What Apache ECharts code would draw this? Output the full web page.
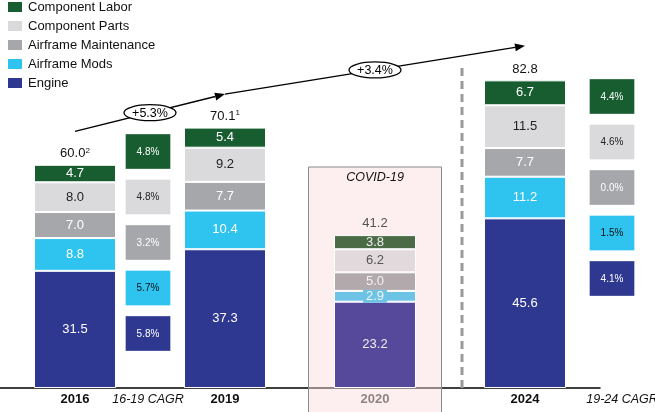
<!DOCTYPE html>
<html><head><meta charset="utf-8">
<script src="https://cdn.jsdelivr.net/npm/echarts@6/dist/echarts.min.js"></script>
<style>html,body{margin:0;padding:0;background:#fff}#c{width:655px;height:412px}</style>
</head><body><div id="c"></div>
<script>
// ---- data ----
const years = ['2016', '2019', '2020', '2024'];
const engine = [31.5, 37.3, 23.2, 45.6];
const airframeMods = [8.8, 10.4, 2.9, 11.2];
const airframeMaint = [7.0, 7.7, 5.0, 7.7];
const componentParts = [8.0, 9.2, 6.2, 11.5];
const componentLabor = [4.7, 5.4, 3.8, 6.7];
const totals = [60.0, 70.1, 41.2, 82.8];
const totalNotes = ['2', '1', '', ''];
// CAGR rows top->bottom: Labor, Parts, Maintenance, Mods, Engine
const cagr1619 = [4.8, 4.8, 3.2, 5.7, 5.8];
const cagr1924 = [4.4, 4.6, 0.0, 1.5, 4.1];
const trendPoints = [[0, 69], [1, 79], [3, 92]];
const trendLabels = ['+5.3%', '+3.4%'];
const cagrTitles = ['16-19 CAGR', '19-24 CAGR'];

// ---- styles ----
const FONT = 'Arial, "Liberation Sans", sans-serif';
const C = {
  labor: '#175d2f', parts: '#dadadc', maint: '#a6a7aa', mods: '#2ec4ef', engine: '#2e3891'
};
const C2020 = {
  labor: '#4a6b45', parts: '#e2d9dc', maint: '#b2a9ac', mods: '#6cc3e6', engine: '#56499b'
};
const rowColors = [C.labor, C.parts, C.maint, C.mods, C.engine];
const rowText = ['#fff', '#222', '#fff', '#111', '#fff'];

function seg(name, values, key, labelColor, label2020) {
  return {
    name, type: 'bar', stack: 'total', barWidth: 82, z: 3,
    itemStyle: { color: C[key], borderColor: '#fff', borderWidth: 1 },
    label: {
      show: true, position: 'inside', color: labelColor, fontSize: 13, fontFamily: FONT,
      formatter: p => Number(p.value).toFixed(1)
    },
    data: values.map((v, i) => i === 2 ? {
      value: v, itemStyle: { color: C2020[key] }, label: label2020
    } : v)
  };
}

const chart = echarts.init(document.getElementById('c'));
const option = {
  animation: false,
  textStyle: { fontFamily: FONT },
  grid: { left: 0, right: 55, top: 16, bottom: 24 },
  legend: {
    orient: 'vertical', left: 6, top: 0, itemWidth: 16, itemHeight: 12, itemGap: 5, padding: 0,
    icon: 'rect', selectedMode: false,
    textStyle: { fontSize: 13, color: '#111', fontFamily: FONT },
    data: ['Component Labor', 'Component Parts', 'Airframe Maintenance', 'Airframe Mods', 'Engine']
  },
  xAxis: {
    type: 'category', data: years,
    axisLine: { lineStyle: { color: '#000', width: 1.5 } },
    axisTick: { show: false },
    axisLabel: {
      margin: 5, fontSize: 13, fontWeight: 'bold', color: '#111', fontFamily: FONT,
      formatter: v => v === '2020' ? '{g|' + v + '}' : v,
      rich: { g: { color: '#3a3a3a', fontWeight: 'bold', fontSize: 13, fontFamily: FONT } }
    }
  },
  yAxis: { type: 'value', min: 0, max: 100, show: false, splitLine: { show: false } },
  series: [
    seg('Engine', engine, 'engine', '#fff', { color: '#eee' }),
    seg('Airframe Mods', airframeMods, 'mods', '#fff', {
      color: '#f4f4f4', backgroundColor: C2020.mods, padding: [0, 3, 0, 3]
    }),
    seg('Airframe Maintenance', airframeMaint, 'maint', '#fff', { color: '#f2f2f2' }),
    seg('Component Parts', componentParts, 'parts', '#222', { color: '#555' }),
    seg('Component Labor', componentLabor, 'labor', '#fff', { color: '#eee' }),
    {
      name: 'Total', type: 'scatter', symbolSize: 0, z: 4,
      itemStyle: { opacity: 1 },
      data: totals,
      label: {
        show: true, position: 'top', distance: 4, fontSize: 13, fontFamily: FONT,
        formatter: p => {
          const t = Number(p.value).toFixed(1);
          const n = totalNotes[p.dataIndex];
          const k = p.dataIndex === 2 ? 'g' : 'v';
          return n ? '{' + k + '|' + t + '}{s|' + n + '}' : '{' + k + '|' + t + '}';
        },
        rich: {
          v: { fontSize: 13, fontFamily: FONT, lineHeight: 14, color: '#111' },
          g: { fontSize: 13, fontFamily: FONT, lineHeight: 14, color: '#555' },
          s: { fontSize: 8, fontFamily: FONT, color: '#111', verticalAlign: 'top', lineHeight: 14, padding: [0, 0, 6, 0] }
        }
      }
    },
    {
      name: 'CAGR', type: 'custom', z: 5, silent: true,
      data: cagr1619.map((v, i) => [0, i, v, 0]).concat(cagr1924.map((v, i) => [3, i, v, 1])),
      encode: { x: 0, y: 1 },
      renderItem: (params, api) => {
        const cat = api.value(0), row = api.value(1), v = api.value(2), side = api.value(3);
        const base = api.coord([cat, 0]);
        const cx = base[0] + (side === 0 ? 73 : 87);
        const top = (side === 0 ? 134 : 79) + row * 45.5;
        return {
          type: 'group', children: [
            { type: 'rect', shape: { x: cx - 22.5, y: top, width: 45, height: 35 },
              style: { fill: rowColors[row], stroke: 'rgba(255,255,255,0.35)', lineWidth: 1 } },
            { type: 'text', style: { text: v.toFixed(1) + '%', x: cx, y: top + 18, align: 'center',
              verticalAlign: 'middle', fill: rowText[row], font: '10px ' + FONT } }
          ]
        };
      }
    },
    {
      name: 'Trend', type: 'custom', z: 6, silent: true,
      data: trendPoints,
      encode: { x: 0, y: 1 },
      renderItem: (params, api) => {
        const i = params.dataIndex;
        if (i === 0) return { type: 'group', children: [] };
        const p0 = api.coord(trendPoints[i - 1]);
        const p1 = api.coord(trendPoints[i]);
        const ang = Math.atan2(p1[1] - p0[1], p1[0] - p0[0]);
        const L = 10, W = 4;
        const bx = p1[0] - L * Math.cos(ang), by = p1[1] - L * Math.sin(ang);
        const nx = -Math.sin(ang) * W, ny = Math.cos(ang) * W;
        const mx = (p0[0] + p1[0]) / 2, my = (p0[1] + p1[1]) / 2;
        return {
          type: 'group', children: [
            { type: 'line', shape: { x1: p0[0], y1: p0[1], x2: bx, y2: by },
              style: { stroke: '#000', lineWidth: 1.4 } },
            { type: 'polygon', shape: { points: [[p1[0], p1[1]], [bx + nx, by + ny], [bx - nx, by - ny]] },
              style: { fill: '#000' } },
            { type: 'ellipse', shape: { cx: mx, cy: my, rx: 26, ry: 8 },
              style: { fill: '#fff', stroke: '#000', lineWidth: 1.3 } },
            { type: 'text', style: { text: trendLabels[i - 1], x: mx, y: my + 1, align: 'center',
              verticalAlign: 'middle', fill: '#000', font: '12.5px ' + FONT } }
          ]
        };
      }
    }
  ]
};
chart.setOption(option);

// ---- decorations positioned from the axis ----
const px = name => chart.convertToPixel({ xAxisIndex: 0 }, name);
const py = v => chart.convertToPixel({ yAxisIndex: 0 }, v);
const x2016 = px('2016'), x2020 = px('2020'), x2024 = px('2024');
const base = py(0);
chart.setOption({
  graphic: [
    { type: 'rect', z: 1, shape: { x: x2020 - 66.5, y: 167, width: 133, height: 300 },
      style: { fill: 'rgba(250,217,219,0.45)', stroke: '#8a8a8a', lineWidth: 1 } },
    { type: 'text', z: 7, style: { text: 'COVID-19', x: x2020, y: 178, align: 'center', verticalAlign: 'middle',
      font: 'italic 12.5px ' + FONT, fill: '#111' } },
    { type: 'line', z: 1, shape: { x1: (x2020 + x2024) / 2 + 12, y1: 68, x2: (x2020 + x2024) / 2 + 12, y2: base },
      style: { stroke: '#9a9a9a', lineWidth: 3, lineDash: [8, 5] } },
    { type: 'text', z: 7, style: { text: cagrTitles[0], x: x2016 + 73, y: base + 12, align: 'center',
      verticalAlign: 'middle', font: 'italic 12.5px ' + FONT, fill: '#111' } },
    { type: 'text', z: 7, style: { text: cagrTitles[1], x: x2024 + 97, y: base + 12, align: 'center',
      verticalAlign: 'middle', font: 'italic 12.5px ' + FONT, fill: '#111' } }
  ]
});
</script></body></html>
